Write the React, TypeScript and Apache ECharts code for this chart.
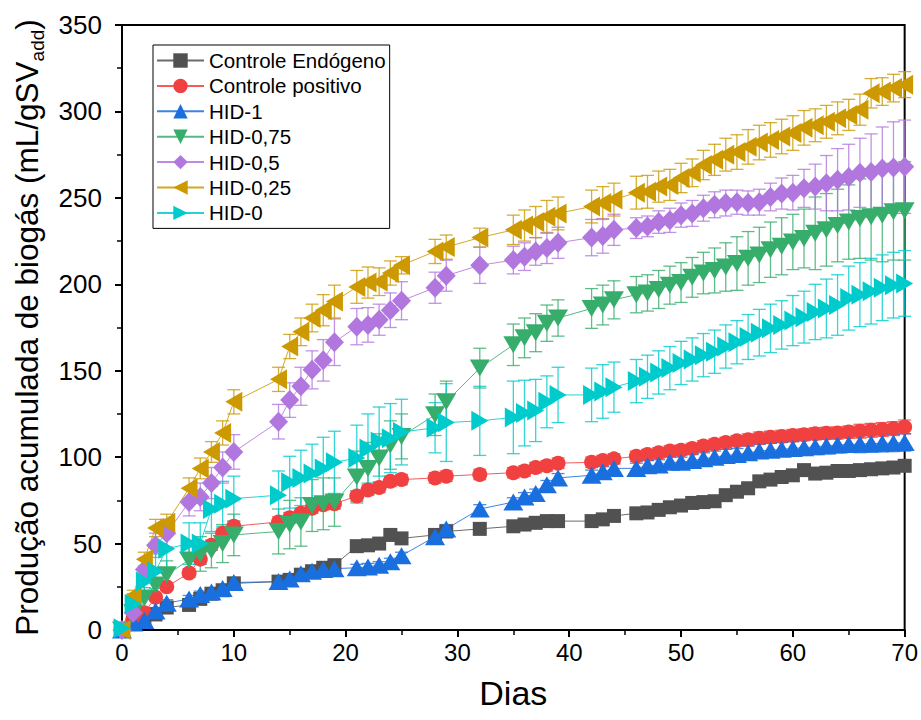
import React, { useEffect, useRef } from "react";
import * as echarts from "echarts";

const days = [0, 1, 2, 3, 4, 6, 7, 8, 9, 10, 14, 15, 16, 17, 18, 19, 21, 22, 23, 24, 25, 28, 29, 32, 35, 36, 37, 38, 39, 42, 43, 44,
  46, 47, 48, 49, 50, 51, 52, 53, 54, 55, 56, 57, 58, 59, 60, 61, 62, 63, 64, 65, 66, 67, 68, 69, 70];

const seriesNames = ["Controle Endógeno", "Controle positivo", "HID-1", "HID-0,75", "HID-0,5", "HID-0,25", "HID-0"];

const controleEndogeno = [0, 4.5, 6, 9, 13, 14.5, 18, 21, 23, 27, 28, 29, 32, 34, 36, 37.5, 48.5, 49, 50, 55, 53, 55, 57, 58.5,
  60, 61, 62, 63, 63, 63, 64, 66,
  67.5, 68, 69.5, 71, 72, 73.5, 74, 74.5, 78, 80, 82, 86, 87, 88.5, 89.5, 92.5, 90.5, 91, 92, 92, 92.5, 93, 93.5, 94, 95];
const controlePositivo = [0, 6, 10, 19, 25, 33, 41, 49, 56, 60, 62.5, 65, 67.5, 70.5, 72.5, 73, 77.5, 81, 82.5, 86, 87, 88, 89, 90,
  91, 92, 94, 95, 96.5, 97, 98, 99,
  100.5, 101.5, 102.5, 103.5, 104, 105, 106.5, 107.5, 108.5, 109.5, 110, 111, 111.5, 112, 112.5, 113, 113.5, 113.8, 114, 114.5, 115, 115.5, 116, 116.5, 117.5];
const hid1 = [0, 4, 5.5, 11, 15.5, 18, 20.5, 22, 24, 27.5, 28, 29.5, 32.5, 34, 35, 35.5, 36, 36.5, 37.5, 39.5, 43, 54, 58.5, 70,
  74, 77, 79, 84, 88, 89.5, 91.5, 93.5,
  93.5, 95, 95.5, 97, 97, 98, 99, 100, 101, 101.5, 102.5, 103.5, 104, 104.5, 105, 105.5, 106, 106.5, 107, 107.3, 107.6, 107.8, 108, 108.2, 108.5];
const hid075 = [0, 10, 18.5, 26, 32, 40.5, 44, 46, 50, 55, 57, 61, 62.5, 72, 73, 74, 88.5, 93.5, 99.5, 107, 112, 124.5, 132, 151.5,
  165, 169, 172, 177.5, 180.5, 186, 188, 191,
  194, 195, 197, 199.5, 201, 204, 206.5, 208, 210, 212, 215, 217, 220, 222, 224.5, 226.5, 229.5, 231.5, 234, 236, 238, 239, 240, 242, 242.5];
const hid05 = [0, 10, 35, 49, 56, 74, 77, 85, 94, 103, 120.5, 133, 141, 150.5, 156, 166.5, 175.5, 176.5, 179.5, 185, 190.5, 198, 205, 211,
  214, 216, 219, 221, 224, 227, 228, 231.5,
  232.5, 233.5, 236, 237, 240, 241, 244, 246, 247, 247.5, 247, 247.5, 250.5, 252.5, 253, 255.5, 256.5, 258.5, 260.5, 262, 264.5, 265, 267, 267.5, 268];
const hid025 = [0, 20, 41, 59, 62, 82, 93.5, 103, 114, 132, 145, 164, 172.5, 180.5, 185, 190, 198.5, 201, 201.5, 206.5, 211, 219, 221.5, 227,
  231.5, 234, 236, 239, 241, 245, 247, 249,
  253, 253.5, 256.5, 257.5, 261.5, 264.5, 269, 272, 275, 276.5, 279.5, 282, 283.5, 285.5, 287.5, 290.5, 292, 294, 296, 298, 301, 310.5, 311.5, 313.5, 315.5];
const hid0 = [1, 15, 28, 34, 47, 50, 50, 70, 73, 76, 78, 85.5, 88, 90.5, 93.5, 97, 99.5, 105, 109, 111, 114.5, 117, 120, 121,
  123, 125.5, 127, 132, 136, 136, 138, 140.5,
  144, 146.5, 149, 151.5, 154.5, 156.5, 159, 161, 164, 166.5, 169.5, 172, 174.5, 176.5, 179, 181, 184, 186, 188, 192, 194, 196, 198, 199.5, 200.5];

const errEndogeno = [0, 0.5, 0.5, 1, 1, 1, 1, 1, 1.5, 1.5, 1.5, 1.5, 1.5, 1.5, 1.5, 1.5, 2, 2, 2, 2, 2, 2, 2, 2,
  2, 2, 2, 2, 2, 2, 2, 2,
  2, 2, 2, 2, 2, 2.5, 2.5, 2.5, 2.5, 2.5, 2.5, 2.5, 3, 3, 3, 3, 3, 3, 3, 3, 3, 3, 3, 3, 3];
const errPositivo = [0, 1, 1.5, 2, 2, 2.5, 3, 3, 3, 3, 3, 3, 3, 3, 3, 3, 3, 3, 3, 3, 3, 3, 3, 3,
  3, 3, 3, 3, 3, 3, 3, 3,
  3, 3, 3, 3, 3, 3, 3, 3, 3, 3, 3.5, 3.5, 3.5, 3.5, 3.5, 3.5, 3.5, 3.5, 3.5, 3.5, 4, 4, 4, 4, 4];
const errHid1 = [0, 1, 1.5, 2, 2, 2, 2, 2, 2, 2, 2, 2, 2, 2, 2, 2, 2, 2, 2, 2, 2, 2.5, 2.5, 2.5,
  2.5, 2.5, 2.5, 2.5, 2.5, 3, 3, 3,
  3, 3, 3, 3, 3, 3.5, 3.5, 3.5, 3.5, 3.5, 4, 4, 4, 4, 4, 4.5, 4.5, 4.5, 4.5, 4.5, 5, 5, 5, 5, 5];
const errHid075 = [0, 5, 6, 7, 8, 9, 10, 10, 11, 12, 13, 14, 14, 15, 15, 14, 15, 15, 14, 14, 13, 12, 12, 11.5,
  12, 11.5, 11, 10.5, 10.5, 11.5, 11.5, 11,
  10.5, 10.5, 11, 11, 11.5, 11.5, 12, 13, 14, 15.5, 15.5, 16, 16, 16.5, 16, 17, 21, 21, 21, 21.5, 23, 25, 27, 28, 28.5];
const errHid05 = [0, 4, 6, 7, 8, 8, 8, 9, 9, 10, 10, 10, 11, 11, 12, 13.5, 10.5, 10, 9, 10, 11, 9, 9, 10.5,
  8, 8, 8, 9, 9, 10.5, 10, 9,
  6, 6, 6.5, 7, 7, 7.5, 7.5, 7.5, 7.5, 7, 7, 7.5, 8, 9, 10, 11, 13, 16, 18, 19, 20, 22, 24, 26.5, 27];
const errHid025 = [0, 3, 4, 5, 5, 6, 6, 6, 7, 7, 7, 7, 8, 8, 9, 9.5, 9.5, 9, 8, 7, 5, 7, 7, 5.5,
  8.5, 9, 9, 9.5, 9.5, 9.5, 9.5, 9.5,
  9.5, 9.5, 9, 9, 8.5, 8, 8.5, 9, 9.5, 10, 10, 10, 10, 10, 10, 10, 9.5, 9.5, 9.5, 9, 9, 8.5, 8, 8, 7.5];
const errHid0 = [0, 6, 8, 10, 12, 12, 12, 13, 13, 13, 14, 15, 16, 17, 18, 18, 19, 20, 20, 20, 19, 14.5, 22.5, 20,
  21, 19, 18, 15, 16, 15.5, 15.5, 14.5,
  12.5, 12.5, 12.5, 12.5, 12.5, 12.5, 12.5, 12.5, 12.5, 12.5, 13, 13.5, 14, 14, 14.5, 15, 16, 17, 17.5, 18.5, 18.5, 19, 19, 19, 19];

const yTicks = [0, 50, 100, 150, 200, 250, 300, 350];
const xTicks = [0, 10, 20, 30, 40, 50, 60, 70];

const values = [controleEndogeno, controlePositivo, hid1, hid075, hid05, hid025, hid0];
const errors = [errEndogeno, errPositivo, errHid1, errHid075, errHid05, errHid025, errHid0];
const colors = ["#515151", "#F14040", "#1A6FDF", "#37AD6B", "#B177DE", "#CC9900", "#00CBCC"];
const symbols = ["rect", "circle", "triangle", "triangle", "diamond", "triangle", "triangle"];
const rotations = [0, 0, 0, 180, 0, 90, -90];
const sizes: any[] = [14, 15, [20, 17], [20, 17], [19, 20], [20, 17], [20, 17]];

const arial = "'Liberation Sans', Arial, Helvetica, sans-serif";

function errRender(color: string) {
  return (params: any, api: any) => {
    const x = api.value(0);
    const y = api.value(1);
    const e = api.value(2);
    if (!e) return { type: "group", children: [] };
    const top = api.coord([x, y + e]);
    const bot = api.coord([x, y - e]);
    const hw = 6.5;
    const st = { stroke: color, lineWidth: 1.3, opacity: 0.8 };
    return {
      type: "group",
      children: [
        { type: "line", shape: { x1: top[0], y1: top[1], x2: bot[0], y2: bot[1] }, style: st },
        { type: "line", shape: { x1: top[0] - hw, y1: top[1], x2: top[0] + hw, y2: top[1] }, style: st },
        { type: "line", shape: { x1: bot[0] - hw, y1: bot[1], x2: bot[0] + hw, y2: bot[1] }, style: st },
      ],
    };
  };
}

export default function App() {
  const ref = useRef<HTMLDivElement>(null);
  useEffect(() => {
    const chart = echarts.init(ref.current!, null, { renderer: "svg" });
    const series: any[] = [];
    seriesNames.forEach((name, k) => {
      series.push({
        type: "custom",
        name: "err-" + k,
        renderItem: errRender(colors[k]),
        data: days.map((d, i) => [d, values[k][i], errors[k][i]]),
        encode: { x: 0, y: 1 },
        silent: true,
      });
      series.push({
        type: "line",
        name,
        data: days.map((d, i) => [d, values[k][i]]),
        symbol: symbols[k],
        symbolSize: sizes[k],
        symbolRotate: rotations[k],
        showAllSymbol: true,
        lineStyle: { color: colors[k], width: 1, opacity: 0.85 },
        itemStyle: { color: colors[k], opacity: 1 },
      });
    });
    chart.setOption({
      animation: false,
      backgroundColor: "#fff",
      grid: { left: 122, top: 25, width: 784, height: 605, show: true, borderColor: "#000", borderWidth: 2, backgroundColor: "transparent" },
      legend: {
        data: seriesNames,
        orient: "vertical",
        left: 153,
        top: 45,
        itemWidth: 47,
        itemHeight: 18,
        itemGap: 4.4,
        padding: [5, 4, 5, 3],
        borderColor: "#000",
        borderWidth: 1,
        backgroundColor: "#fff",
        textStyle: { fontSize: 20.5, fontFamily: arial, color: "#000", lineHeight: 20 },
      },
      xAxis: {
        type: "value",
        min: xTicks[0],
        max: xTicks[xTicks.length - 1],
        interval: 10,
        axisLine: { show: true, onZero: false, lineStyle: { color: "#000", width: 2 } },
        axisTick: { show: true, length: 7, lineStyle: { color: "#000", width: 2 } },
        minorTick: { show: true, splitNumber: 2, length: 5, lineStyle: { color: "#000", width: 1.5 } },
        splitLine: { show: false },
        axisLabel: { fontSize: 24, fontFamily: arial, color: "#000", margin: 10 },
        name: "Dias",
        nameLocation: "middle",
        nameGap: 46,
        nameTextStyle: { fontSize: 34, fontFamily: arial, color: "#000" },
      },
      yAxis: {
        type: "value",
        min: yTicks[0],
        max: yTicks[yTicks.length - 1],
        interval: 50,
        axisLine: { show: true, onZero: false, lineStyle: { color: "#000", width: 2 } },
        axisTick: { show: true, length: 7, lineStyle: { color: "#000", width: 2 } },
        minorTick: { show: true, splitNumber: 2, length: 5, lineStyle: { color: "#000", width: 1.5 } },
        splitLine: { show: false },
        axisLabel: { fontSize: 26, fontFamily: arial, color: "#000", margin: 20 },
        name: "{a|Produção acumulada de biogás (mL/gSV}{b|add}{a|)}",
        nameLocation: "middle",
        nameRotate: 90,
        nameGap: 78,
        nameTextStyle: {
          rich: {
            a: { fontSize: 31.5, fontFamily: arial, color: "#000", lineHeight: 34 },
            b: { fontSize: 19, fontFamily: arial, color: "#000", verticalAlign: "bottom", lineHeight: 19, padding: [0, 0, -3, 0] },
          },
        },
      },
      series,
    });
    return () => chart.dispose();
  }, []);
  return <div ref={ref} style={{ width: 921, height: 720, position: "absolute", left: 0, top: 0 }} />;
}
